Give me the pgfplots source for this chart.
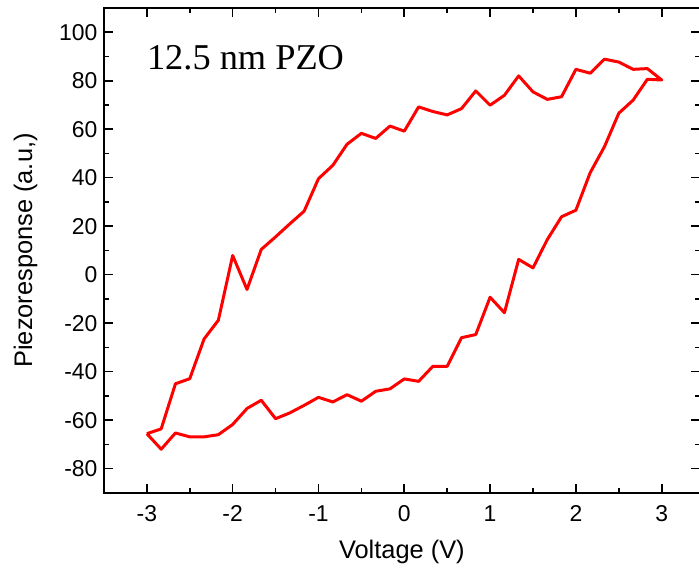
\documentclass[border=0pt]{standalone}
\usepackage{pgfplots}
\pgfplotsset{compat=1.18}
\usepackage{fontspec}
\setmainfont{Liberation Sans}
\newfontfamily\timesfont{Liberation Serif}
\usetikzlibrary{calc}

\begin{document}
\begin{tikzpicture}
\begin{axis}[
  scale only axis, width=596bp, height=485bp,
  xmin=-3.5, xmax=3.444, ymin=-90, ymax=110,
  xtick={-3,-2,-1,0,1,2,3}, ytick={-80,-60,...,100},
  minor x tick num=1, minor y tick num=1,
  tick align=inside,
  major tick length=9bp, minor tick length=5bp,
  every tick/.style={black, line width=1.6pt},
  axis line style={line width=1.6pt},
  /pgf/number format/assume math mode=true,
  ticklabel style={font=\fontsize{23}{26}\selectfont},
  xticklabel style={yshift=-9bp},
  yticklabel style={xshift=-3bp},
  label style={font=\fontsize{25.5}{30}\selectfont},
  xlabel={Voltage (V)}, ylabel={Piezoresponse (a.u,)},
  xlabel style={yshift=-12bp},
  ylabel style={yshift=15bp},
]
\addplot[red, line width=3pt, line join=round] coordinates {
  (-3.000,-65.6) (-2.833,-72.0) (-2.667,-65.3) (-2.500,-66.9) (-2.333,-66.9)
  (-2.167,-66.0) (-2.000,-61.8) (-1.833,-55.2) (-1.667,-51.8) (-1.500,-59.4)
  (-1.333,-57.0) (-1.167,-53.9) (-1.000,-50.6) (-0.833,-52.5) (-0.667,-49.5)
  (-0.500,-52.2) (-0.333,-48.1) (-0.167,-47.1) (0.000,-43.0) (0.167,-44.0)
  (0.333,-37.8) (0.500,-37.8) (0.667,-26.0) (0.833,-24.7) (1.000,-9.3)
  (1.167,-15.7) (1.333,6.3) (1.500,2.8) (1.667,14.5) (1.833,23.9)
  (2.000,26.6) (2.167,42.1) (2.333,52.8) (2.500,66.6) (2.667,72.0)
  (2.833,80.6) (3.000,80.3)
  (2.833,85.0) (2.667,84.7) (2.500,87.7) (2.333,88.9) (2.167,83.1)
  (2.000,84.7) (1.833,73.4) (1.667,72.3) (1.500,75.4) (1.333,82.0)
  (1.167,74.0) (1.000,69.9) (0.833,75.8) (0.667,68.5) (0.500,65.9)
  (0.333,67.3) (0.167,69.2) (0.000,59.2) (-0.167,61.3) (-0.333,56.2)
  (-0.500,58.3) (-0.667,53.8) (-0.833,45.1) (-1.000,39.6) (-1.167,26.2)
  (-1.333,21.0) (-1.500,15.6) (-1.667,10.4) (-1.833,-6.1) (-2.000,7.9)
  (-2.167,-18.8) (-2.333,-26.5) (-2.500,-42.9) (-2.667,-45.0) (-2.833,-63.6)
  (-3.000,-65.6)
};
\node[anchor=base west, inner sep=0pt, font=\timesfont\fontsize{36.5}{40}\selectfont]
  at (axis cs:-3,84.7) {12.5 nm PZO};
\end{axis}
\pgfresetboundingbox
\path ($(current axis.south west)+(-104bp,-76bp)$) rectangle ($(current axis.north east)+(-0.8bp,8bp)$);
\end{tikzpicture}
\end{document}
